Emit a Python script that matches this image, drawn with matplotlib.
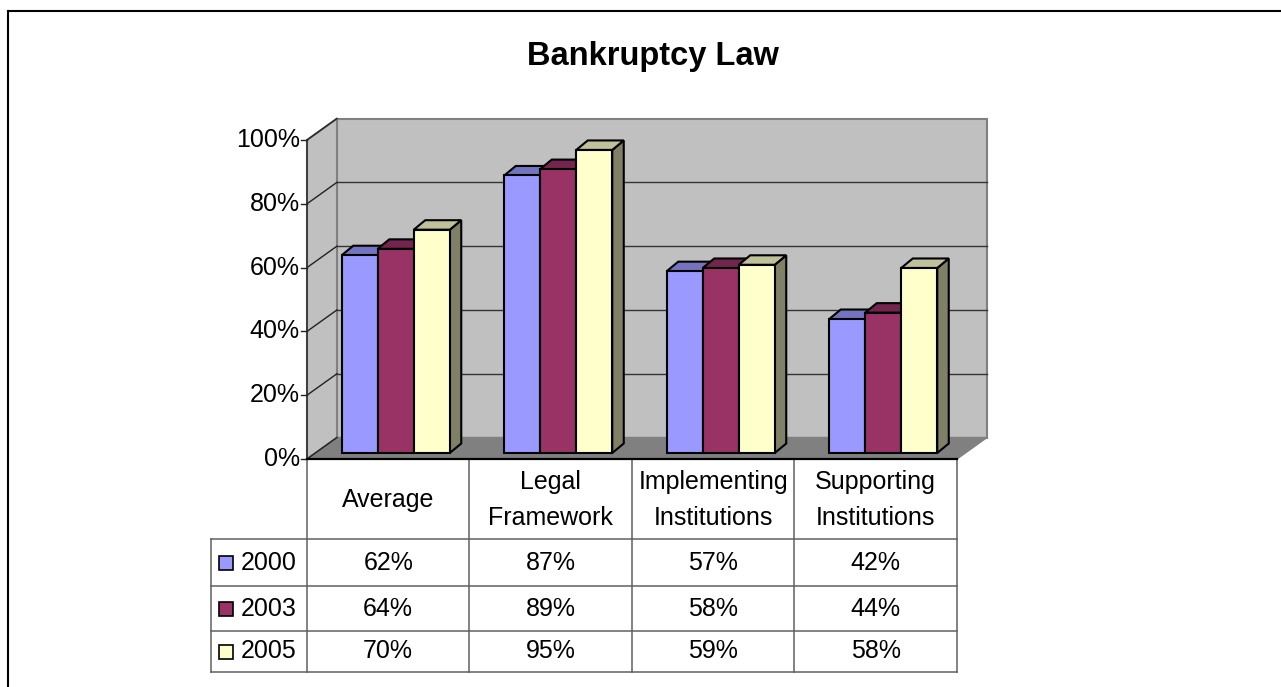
import matplotlib
matplotlib.use("Agg")
import matplotlib.pyplot as plt
from matplotlib.patches import Polygon, Rectangle
from matplotlib.transforms import offset_copy

plt.rcParams['font.family'] = ['Liberation Sans', 'DejaVu Sans']

# ---- data ----
title = "Bankruptcy Law"
categories = ["Average", "Legal\nFramework", "Implementing\nInstitutions", "Supporting\nInstitutions"]
series_names = ["2000", "2003", "2005"]
v2000 = [0.62, 0.87, 0.57, 0.42]
v2003 = [0.64, 0.89, 0.58, 0.44]
v2005 = [0.70, 0.95, 0.59, 0.58]
yticks = [0.0, 0.2, 0.4, 0.6, 0.8, 1.0]
ytick_labels = ["0%", "20%", "40%", "60%", "80%", "100%"]

values = [v2000, v2003, v2005]
face = ["#9999FF", "#993366", "#FFFFCC"]
top = ["#7373C0", "#73264D", "#C0C09A"]
side = ["#4D4D80", "#4D1A33", "#808066"]

FS = 18

W, H = 1281, 687
fig = plt.figure(figsize=(W / 100, H / 100), dpi=100)

# front plane of the plot (pixels)
X0, X1 = 307, 957
Y0, Y100 = 459, 140
ax = fig.add_axes([X0 / W, 1 - Y0 / H, (X1 - X0) / W, (Y0 - Y100) / H])
n = len(categories)
ax.set_xlim(-0.5, n - 0.5)
ax.set_ylim(0, 1)
ax.axis("off")

ux = (X1 - X0) / n          # px per category unit
uy = (Y0 - Y100) / 1.0      # px per value unit
def px(dx, dy):
    return dx / ux, dy / uy

# depth of the box
Ddx, Ddy = px(30, 21.5)
xa, xb = -0.5, n - 0.5

# back wall
ax.add_patch(Polygon([(xa + Ddx, Ddy), (xb + Ddx, Ddy), (xb + Ddx, 1 + Ddy), (xa + Ddx, 1 + Ddy)],
                     closed=True, facecolor="#C0C0C0", edgecolor="#808080", lw=1.5, clip_on=False, zorder=1))
# left wall
ax.add_patch(Polygon([(xa, 0), (xa, 1), (xa + Ddx, 1 + Ddy), (xa + Ddx, Ddy)],
                     closed=True, facecolor="#C0C0C0", edgecolor="#808080", lw=1.5, clip_on=False, zorder=1))
# floor
ax.add_patch(Polygon([(xa, 0), (xb, 0), (xb + Ddx, Ddy), (xa + Ddx, Ddy)],
                     closed=True, facecolor="#808080", edgecolor="#808080", lw=1, clip_on=False, zorder=1))
# gridlines
for t in yticks[1:-1]:
    ax.plot([xa + Ddx, xb + Ddx], [t + Ddy, t + Ddy], color="#333333", lw=1, clip_on=False, zorder=2)
for t in yticks:
    ax.plot([xa, xa + Ddx], [t, t + Ddy], color="#222222", lw=1, clip_on=False, zorder=2)

# y axis
ax.plot([xa, xa], [0, 1], color="#333333", lw=1.2, clip_on=False, zorder=3)
tk = px(6, 0)[0]
lab_tr = offset_copy(ax.transData, fig=fig, x=-7, y=0, units="dots")
for t, lab in zip(yticks, ytick_labels):
    ax.plot([xa - tk, xa], [t, t], color="#222222", lw=1, clip_on=False, zorder=3)
    ax.text(xa, t, lab, transform=lab_tr, ha="right", va="center", fontsize=FS, color="black")

# bars
bw = 36 / ux
bfx, bfy = px(7.5, 6)
bdx, bdy = px(11.5, 9.5)
z = 4
for c in range(n):
    for s in range(len(series_names)):
        v = values[s][c]
        xl = c - 1.5 * bw + s * bw + bfx
        yb = bfy
        yt = v + bfy
        ax.add_patch(Polygon([(xl + bw, yb), (xl + bw + bdx, yb + bdy), (xl + bw + bdx, yt + bdy), (xl + bw, yt)],
                             closed=True, facecolor=side[s], edgecolor="black", lw=1.5, clip_on=False, zorder=z))
        ax.add_patch(Polygon([(xl, yt), (xl + bw, yt), (xl + bw + bdx, yt + bdy), (xl + bdx, yt + bdy)],
                             closed=True, facecolor=top[s], edgecolor="black", lw=1.5, clip_on=False, zorder=z))
        ax.add_patch(Rectangle((xl, yb), bw, v, facecolor=face[s], edgecolor="black", lw=1.5,
                               clip_on=False, zorder=z + 0.5))
        z += 1

# ---- data table ----
TL = 211
TB = 672
tax = fig.add_axes([TL / W, 1 - TB / H, (X1 - TL) / W, (TB - Y0) / H])
left_u = -0.5 - (X0 - TL) / ux
tax.set_xlim(left_u, n - 0.5)
tax.set_ylim(TB, Y0)   # pixel rows, top at Y0
tax.axis("off")
rows = [539, 586, 631, 672]
gc = "#606060"
# header top line (floor front edge)
tax.plot([xa, xb], [Y0, Y0], color="black", lw=1.6, clip_on=False, zorder=5)
for xv in [xa + i for i in range(n + 1)]:
    tax.plot([xv, xv], [Y0, TB], color=gc, lw=1.1, clip_on=False)
tax.plot([left_u, left_u], [rows[0], TB], color=gc, lw=1.1, clip_on=False)
for r in rows:
    tax.plot([left_u, xb], [r, r], color=gc, lw=1.1, clip_on=False)

for c, lab in enumerate(categories):
    tax.text(c, (Y0 + rows[0]) / 2 + 1, lab, ha="center", va="center", fontsize=FS, linespacing=1.62)

key_w = 14 / ux
for s, name in enumerate(series_names):
    yc = (rows[s] + rows[s + 1]) / 2
    kx = left_u + 8 / ux
    tax.add_patch(Rectangle((kx, yc + 7), key_w, -14, facecolor=face[s], edgecolor="black", lw=1.2, clip_on=False))
    tax.text(left_u + 30 / ux, yc, name, ha="left", va="center", fontsize=FS)
    for c in range(n):
        tax.text(c, yc, f"{round(values[s][c] * 100)}%", ha="center", va="center", fontsize=FS)

# title
fig.text(653 / W, 1 - 56 / H, title, ha="center", va="center", fontsize=23.5, fontweight="bold")

# outer border (partially cropped frame)
fig.add_artist(plt.Line2D([8 / W, 8 / W], [0, 1 - 11 / H], color="black", lw=1.5, transform=fig.transFigure))
fig.add_artist(plt.Line2D([8 / W, 1], [1 - 11 / H, 1 - 11 / H], color="black", lw=1.5, transform=fig.transFigure))

fig.savefig("out.png", dpi=100)
